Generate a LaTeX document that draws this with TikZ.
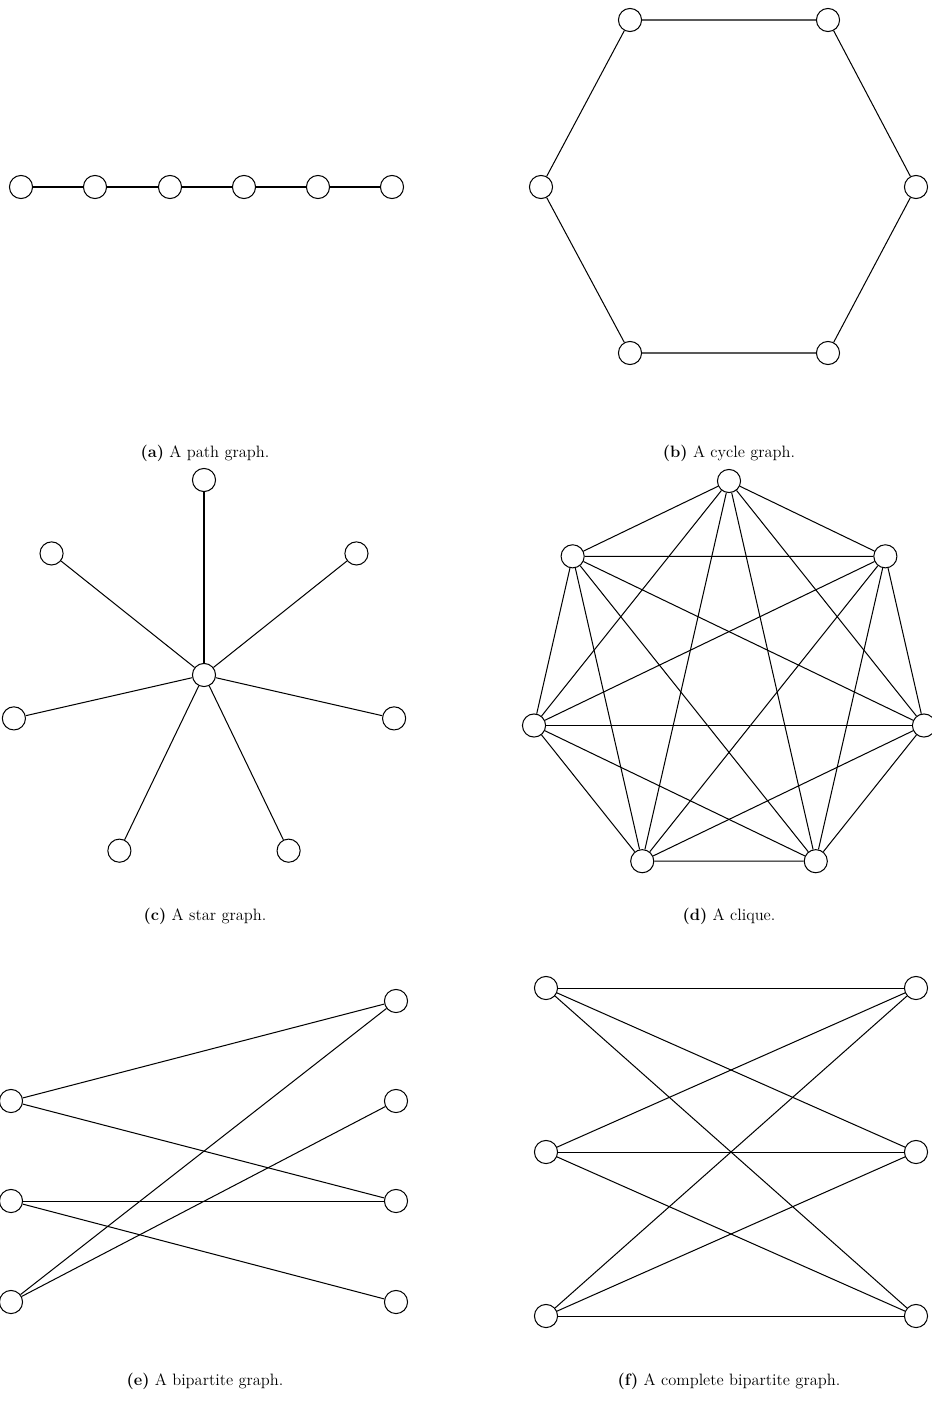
\documentclass[tikz,border=0pt]{standalone}
\begin{document}
\begin{tikzpicture}[x=0.735pt, y=-0.735pt, line width=0.75pt,
		vertex/.style={circle, draw, fill=white, inner sep=0pt, minimum size=17pt},
		subcap/.style={font=\fontsize{12.1pt}{14.5pt}\selectfont}]
		\useasboundingbox (0,0) rectangle (931,1411);

		% (a) path graph
		\begin{scope}
			\foreach \x/\l in {21/p1, 95/p2, 170/p3, 244/p4, 318/p5, 392/p6} {
					\node[vertex] (\l) at (\x, 187) {};
				}
			\draw (p1) -- (p2) -- (p3) -- (p4) -- (p5) -- (p6);
			\node[subcap] (capa) at (205, 453) {\textbf{(a)} A path graph.};
		\end{scope}

		% (b) cycle graph
		\begin{scope}
			\foreach \x/\y/\l in {630/20/c1, 828/20/c2, 916/187/c3, 828/353/c4, 630/353/c5, 541/187/c6} {
					\node[vertex] (\l) at (\x, \y) {};
				}
			\draw (c1) -- (c2) -- (c3) -- (c4) -- (c5) -- (c6) -- (c1);
			\node[subcap] (capb) at (729, 453) {\textbf{(b)} A cycle graph.};
		\end{scope}

		% (c) star graph
		\begin{scope}
			\node[vertex] (s0) at (204, 675) {};
			\foreach \i in {1,...,7} {
					\node[vertex] (s\i) at ({204+195*cos(90+360/7*(\i-1))}, {675-195*sin(90+360/7*(\i-1))}) {};
					\draw (s0) -- (s\i);
				}
			\node[subcap] (capc) at (205, 916) {\textbf{(c)} A star graph.};
		\end{scope}

		% (d) clique
		\begin{scope}
			\foreach \i in {1,...,7} {
					\node[vertex] (k\i) at ({729+200*cos(90+360/7*(\i-1))}, {681-200*sin(90+360/7*(\i-1))}) {};
				}
			\foreach \i in {1,...,7} {
					\foreach \j in {\i,...,7} {
							\ifnum\i<\j \draw (k\i) -- (k\j); \fi
						}
				}
			\node[subcap] (capd) at (729, 916) {\textbf{(d)} A clique.};
		\end{scope}

		% (e) bipartite graph
		\begin{scope}
			\foreach \y/\l in {1101/a1, 1201/a2, 1302/a3} {
					\node[vertex] (\l) at (11, \y) {};
				}
			\foreach \y/\l in {1001/b1, 1101/b2, 1201/b3, 1302/b4} {
					\node[vertex] (\l) at (396, \y) {};
				}
			\draw (a1) -- (b1);
			\draw (a1) -- (b3);
			\draw (a2) -- (b3);
			\draw (a2) -- (b4);
			\draw (a3) -- (b1);
			\draw (a3) -- (b2);
			\node[subcap] (cape) at (205, 1381) {\textbf{(e)} A bipartite graph.};
		\end{scope}

		% (f) complete bipartite graph
		\begin{scope}
			\foreach \y/\l in {988/1, 1152/2, 1316/3} {
					\node[vertex] (u\l) at (546, \y) {};
					\node[vertex] (v\l) at (916, \y) {};
				}
			\foreach \i in {1,2,3} {
					\foreach \j in {1,2,3} {
							\draw (u\i) -- (v\j);
						}
				}
			\node[subcap] (capf) at (729, 1381) {\textbf{(f)} A complete bipartite graph.};
		\end{scope}
	\end{tikzpicture}
\end{document}
